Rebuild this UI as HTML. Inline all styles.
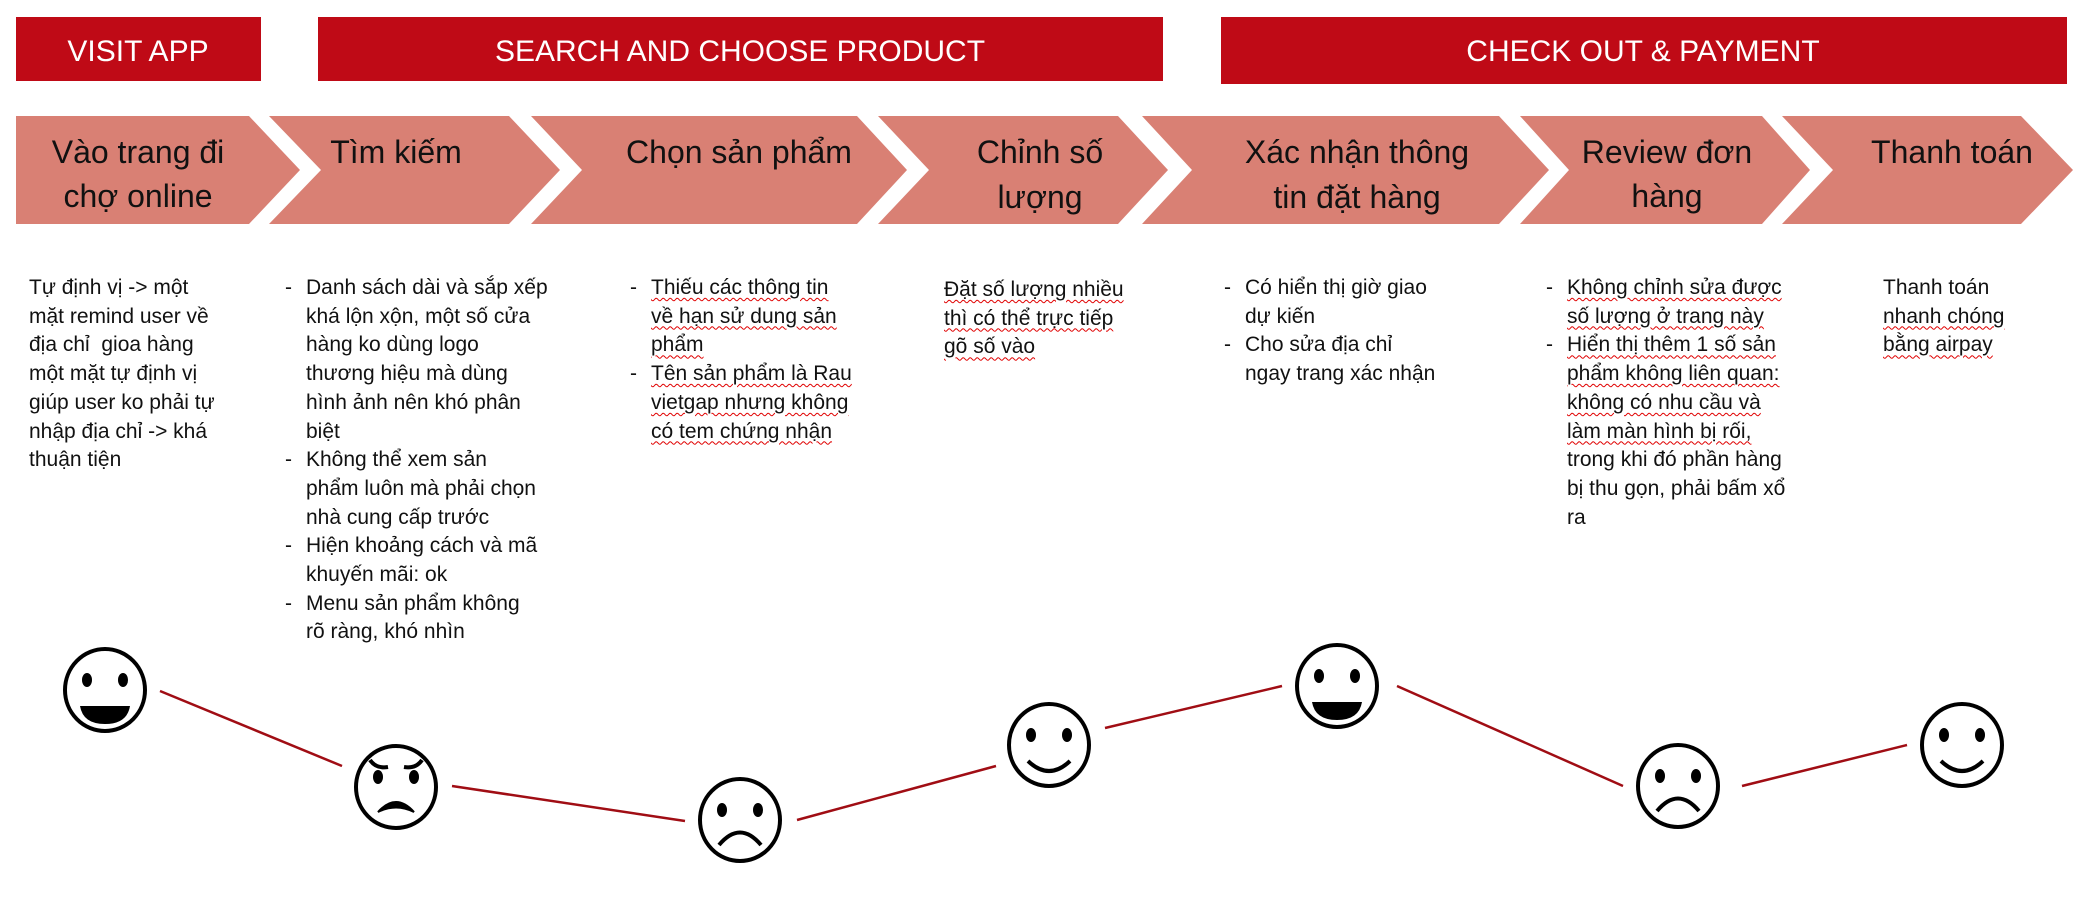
<!DOCTYPE html>
<html><head><meta charset="utf-8"><style>
body{margin:0;width:2096px;height:906px;background:#fff;position:relative;overflow:hidden;font-family:"Liberation Sans",sans-serif}
svg{position:absolute;left:0;top:0}
.col{position:absolute;top:274px;font-size:21px;line-height:28.7px;color:#111;white-space:nowrap}
.li{position:relative;padding-left:21px}
.li:before{content:"-";position:absolute;left:0}
.w{text-decoration:underline wavy #e00000 1px;text-underline-offset:3px}
</style></head><body>
<svg width="2096" height="906" viewBox="0 0 2096 906">
<g fill="#bf0a16">
<rect x="16" y="17" width="245" height="64"/>
<rect x="318" y="17" width="845" height="64"/>
<rect x="1221" y="17" width="846" height="67"/>
</g>
<g fill="#fff" font-family="Liberation Sans, sans-serif" font-size="30" text-anchor="middle">
<text x="138" y="61">VISIT APP</text>
<text x="740" y="61">SEARCH AND CHOOSE PRODUCT</text>
<text x="1643" y="61">CHECK OUT &amp; PAYMENT</text>
</g>
<g fill="#d98074">
<polygon points="16,116 249,116 300,170 249,224 16,224"/>
<polygon points="269,116 509,116 560,170 509,224 269,224 321,170"/>
<polygon points="531,116 857,116 907,170 857,224 531,224 582,170"/>
<polygon points="878,116 1118,116 1168,170 1118,224 878,224 929,170"/>
<polygon points="1142,116 1499,116 1549,170 1499,224 1142,224 1192,170"/>
<polygon points="1520,116 1762,116 1810,170 1762,224 1520,224 1569,170"/>
<polygon points="1782,116 2021,116 2073,170 2021,224 1782,224 1833,170"/>
</g>
<g fill="#111" font-family="Liberation Sans, sans-serif" font-size="32" text-anchor="middle">
<text x="138" y="163">Vào trang đi</text><text x="138" y="207">chợ online</text>
<text x="396" y="163">Tìm kiếm</text>
<text x="739" y="163">Chọn sản phẩm</text>
<text x="1040" y="163">Chỉnh số</text><text x="1040" y="208">lượng</text>
<text x="1357" y="163">Xác nhận thông</text><text x="1357" y="208">tin đặt hàng</text>
<text x="1667" y="163">Review đơn</text><text x="1667" y="207">hàng</text>
<text x="1952" y="163">Thanh toán</text>
</g>
<g stroke="#a00d14" stroke-width="2.5">
<line x1="160" y1="691" x2="342" y2="766"/>
<line x1="452" y1="786" x2="685" y2="821"/>
<line x1="797" y1="820" x2="996" y2="766"/>
<line x1="1105" y1="728" x2="1282" y2="686"/>
<line x1="1397" y1="686" x2="1623" y2="786"/>
<line x1="1742" y1="786" x2="1907" y2="745"/>
</g>
<defs>
<g id="base"><ellipse cx="0" cy="0" rx="40" ry="41" fill="#fff" stroke="#000" stroke-width="4"/>
<ellipse cx="-18" cy="-10" rx="5" ry="7"/><ellipse cx="18" cy="-10" rx="5" ry="7"/></g>
</defs>
<g fill="#000">
<g transform="translate(105,690)"><use href="#base"/><path d="M-25,16 L25,16 Q22,34 0,34 Q-22,34 -25,16Z"/></g>
<g transform="translate(396,787)"><use href="#base"/><path d="M-26,-27 Q-20,-18 -8,-20" fill="none" stroke="#000" stroke-width="4"/><path d="M26,-27 Q20,-18 8,-20" fill="none" stroke="#000" stroke-width="4"/><path d="M-18,25 Q0,5 18,25 Q0,16 -18,25Z" stroke="#000" stroke-width="2"/></g>
<g transform="translate(740,820)"><use href="#base"/><path d="M-21,25 Q0,0 21,25" fill="none" stroke="#000" stroke-width="4"/></g>
<g transform="translate(1049,745)"><use href="#base"/><path d="M-21,16 Q0,36 21,16" fill="none" stroke="#000" stroke-width="4"/></g>
<g transform="translate(1337,686)"><use href="#base"/><path d="M-25,16 L25,16 Q22,34 0,34 Q-22,34 -25,16Z"/></g>
<g transform="translate(1678,786)"><use href="#base"/><path d="M-21,25 Q0,0 21,25" fill="none" stroke="#000" stroke-width="4"/></g>
<g transform="translate(1962,745)"><use href="#base"/><path d="M-21,16 Q0,36 21,16" fill="none" stroke="#000" stroke-width="4"/></g>
</g>
</svg>
<div class="col" style="left:29px">Tự định vị -&gt; một<br>mặt remind user về<br>địa chỉ&nbsp; gioa hàng<br>một mặt tự định vị<br>giúp user ko phải tự<br>nhập địa chỉ -&gt; khá<br>thuận tiện</div>
<div class="col" style="left:285px">
<div class="li">Danh sách dài và sắp xếp<br>khá lộn xộn, một số cửa<br>hàng ko dùng logo<br>thương hiệu mà dùng<br>hình ảnh nên khó phân<br>biệt</div>
<div class="li">Không thể xem sản<br>phẩm luôn mà phải chọn<br>nhà cung cấp trước</div>
<div class="li">Hiện khoảng cách và mã<br>khuyến mãi: ok</div>
<div class="li">Menu sản phẩm không<br>rõ ràng, khó nhìn</div></div>
<div class="col" style="left:630px">
<div class="li"><span class="w">Thiếu các thông tin</span><br><span class="w">về hạn sử dung sản</span><br><span class="w">phẩm</span></div>
<div class="li"><span class="w">Tên sản phẩm là Rau</span><br><span class="w">vietgap nhưng không</span><br><span class="w">có tem chứng nhận</span></div></div>
<div class="col" style="left:944px;top:276px"><span class="w">Đặt số lượng nhiều</span><br><span class="w">thì có thể trực tiếp</span><br><span class="w">gõ số vào</span></div>
<div class="col" style="left:1224px">
<div class="li">Có hiển thị giờ giao<br>dự kiến</div>
<div class="li">Cho sửa địa chỉ<br>ngay trang xác nhận</div></div>
<div class="col" style="left:1546px">
<div class="li"><span class="w">Không chỉnh sửa được</span><br><span class="w">số lượng ở trang này</span></div>
<div class="li"><span class="w">Hiển thị thêm 1 số sản</span><br><span class="w">phẩm không liên quan:</span><br><span class="w">không có nhu cầu và</span><br><span class="w">làm màn hình bị rối,</span><br>trong khi đó phần hàng<br>bị thu gọn, phải bấm xổ<br>ra</div></div>
<div class="col" style="left:1883px">Thanh toán<br><span class="w">nhanh chóng</span><br><span class="w">bằng airpay</span></div>
</body></html>
